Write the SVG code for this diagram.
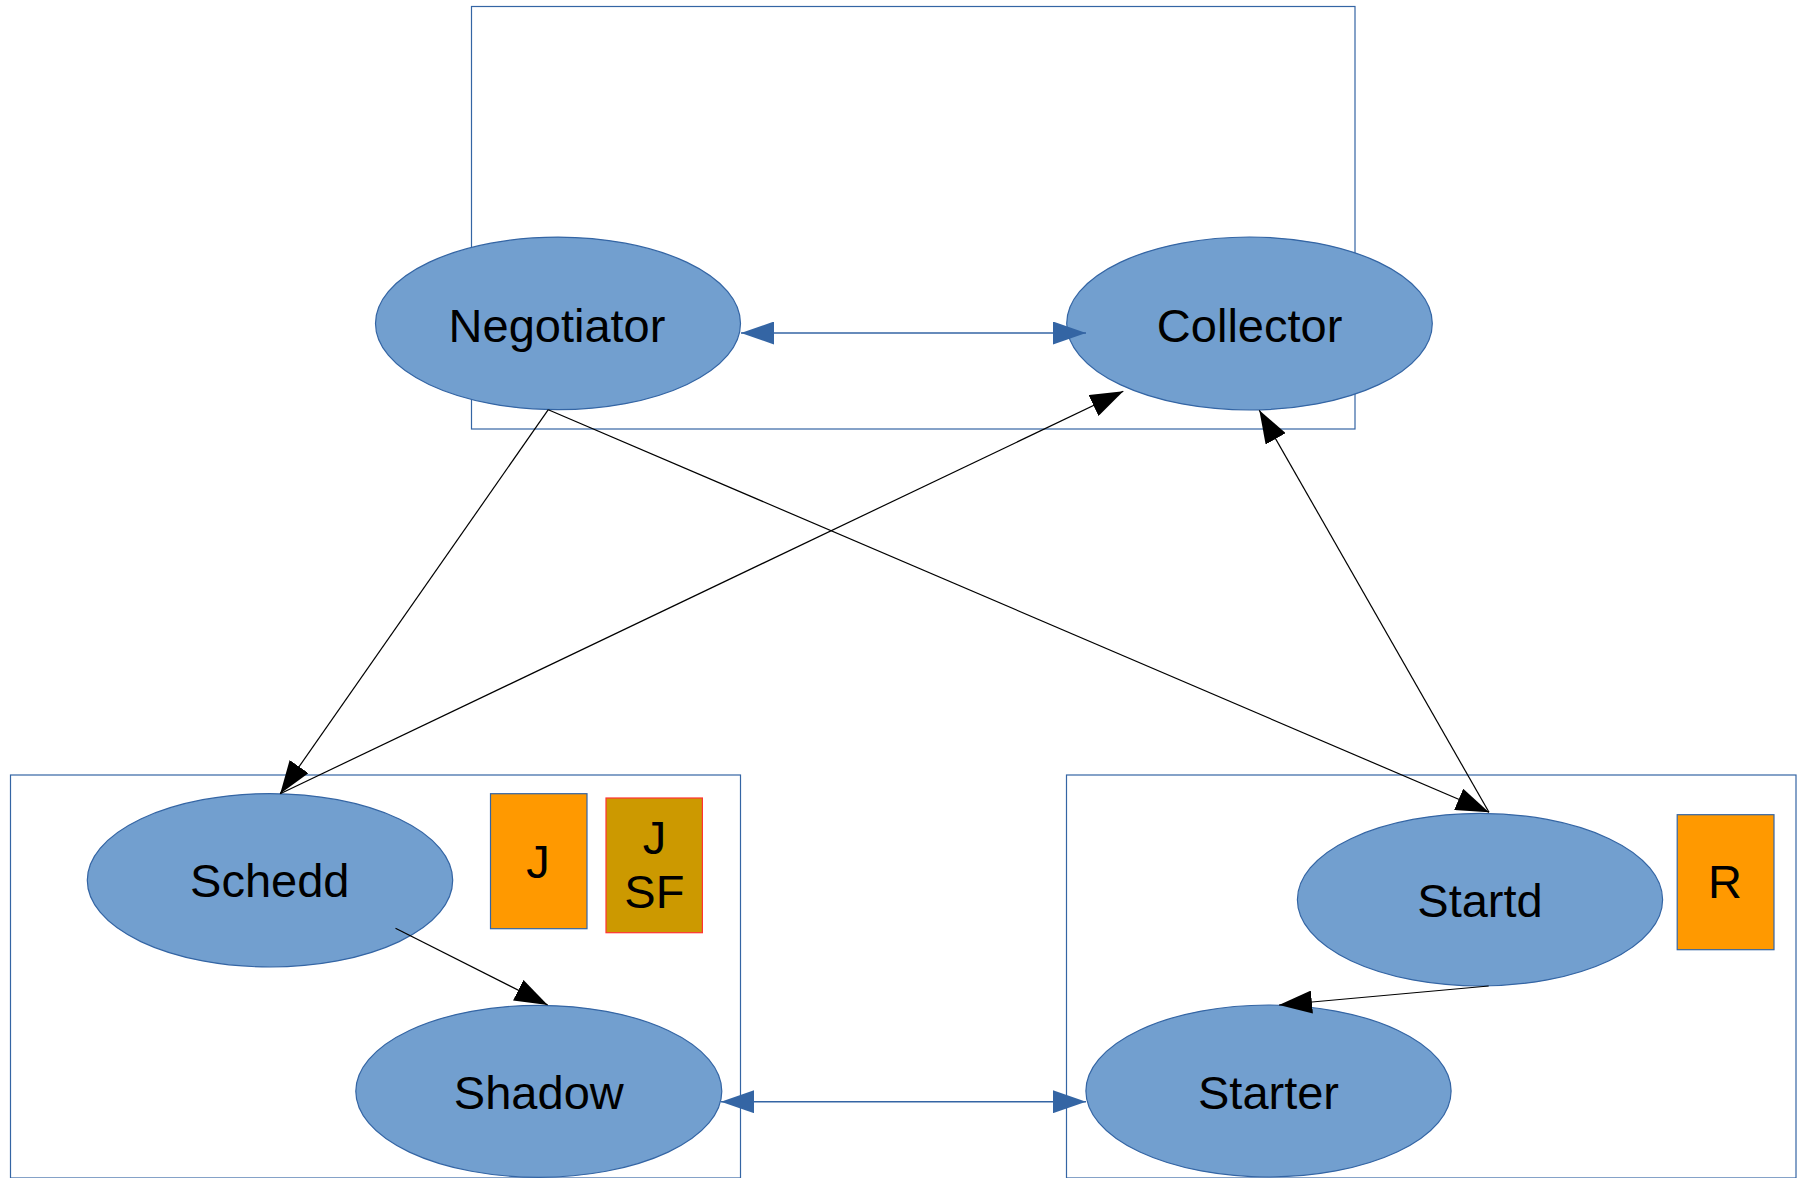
<svg xmlns="http://www.w3.org/2000/svg" width="1797" height="1178" viewBox="0 0 1797 1178">
<style>
.box{fill:none;stroke:#3465a4;stroke-width:1.2}
.node{fill:#729fcf;stroke:#3465a4;stroke-width:1.2}
.lbl{font-family:"Liberation Sans",Arial,sans-serif;font-size:47px;fill:#000;text-anchor:middle}
.blk{stroke:#000;stroke-width:1.2;fill:none}
.blu{stroke:#3465a4;stroke-width:1.6;fill:none}
</style>
<defs>
<marker id="ab" markerUnits="userSpaceOnUse" markerWidth="34" markerHeight="23" refX="33" refY="11.5" orient="auto-start-reverse" viewBox="0 0 34 23">
<path d="M0,0 L33,11.5 L0,23 z" fill="#000"/>
</marker>
<marker id="au" markerUnits="userSpaceOnUse" markerWidth="34" markerHeight="23" refX="33" refY="11.5" orient="auto-start-reverse" viewBox="0 0 34 23">
<path d="M0,0 L33,11.5 L0,23 z" fill="#3465a4"/>
</marker>
</defs>
<rect width="1797" height="1178" fill="#fff"/>
<g id="groups">
<rect class="box" x="471.5" y="6.5" width="883.5" height="422.5"/>
<rect class="box" x="10.5" y="775" width="730" height="403"/>
<rect class="box" x="1066.5" y="775" width="729.5" height="403"/>
</g>
<g id="negotiator">
<ellipse class="node" cx="558" cy="323.4" rx="182.5" ry="86.3"/>
<text class="lbl" x="557" y="341.5">Negotiator</text>
</g>
<g id="collector">
<ellipse class="node" cx="1249.5" cy="323.5" rx="182.8" ry="86.5"/>
<text class="lbl" x="1249.6" y="341.7">Collector</text>
</g>
<g id="schedd">
<ellipse class="node" cx="270" cy="880.3" rx="182.7" ry="86.7"/>
<text class="lbl" x="269.8" y="896.7">Schedd</text>
</g>
<g id="shadow">
<ellipse class="node" cx="538.8" cy="1091.3" rx="183" ry="86"/>
<text class="lbl" x="538.8" y="1109">Shadow</text>
</g>
<g id="startd">
<ellipse class="node" cx="1480" cy="899.7" rx="182.6" ry="86.3"/>
<text class="lbl" x="1480" y="916.7">Startd</text>
</g>
<g id="starter">
<ellipse class="node" cx="1268.5" cy="1091" rx="182.6" ry="86"/>
<text class="lbl" x="1268.5" y="1109">Starter</text>
</g>
<g id="job">
<rect x="490.5" y="793.7" width="96.5" height="135" fill="#ff9900" stroke="#3465a4" stroke-width="1.2"/>
<text class="lbl" x="538" y="877.7">J</text>
</g>
<g id="jobsf">
<rect x="606" y="798" width="96.4" height="134.7" fill="#cc9900" stroke="#ff3333" stroke-width="1.2"/>
<text class="lbl" x="654.4" y="854.3">J</text>
<text class="lbl" x="654.4" y="907.7">SF</text>
</g>
<g id="resource">
<rect x="1677.2" y="814.7" width="96.8" height="135" fill="#ff9900" stroke="#3465a4" stroke-width="1.2"/>
<text class="lbl" x="1725" y="898.3">R</text>
</g>
<g id="connectors">
<line class="blu" x1="741" y1="333" x2="1086" y2="333" marker-start="url(#au)" marker-end="url(#au)"/>
<line class="blu" x1="721" y1="1101.7" x2="1086" y2="1101.7" marker-start="url(#au)" marker-end="url(#au)"/>
<line class="blk" x1="548.3" y1="409.7" x2="280.2" y2="793.7" marker-end="url(#ab)"/>
<line class="blk" x1="548.3" y1="409.7" x2="1489" y2="812.3" marker-end="url(#ab)"/>
<line class="blk" x1="280.2" y1="793.7" x2="1123.3" y2="391.3" marker-end="url(#ab)"/>
<line class="blk" x1="1489" y1="812.3" x2="1259.3" y2="410.2" marker-end="url(#ab)"/>
<line class="blk" x1="1488.7" y1="986" x2="1279" y2="1005" marker-end="url(#ab)"/>
<line class="blk" x1="395.5" y1="928.3" x2="547.7" y2="1005" marker-end="url(#ab)"/>
</g>
</svg>
